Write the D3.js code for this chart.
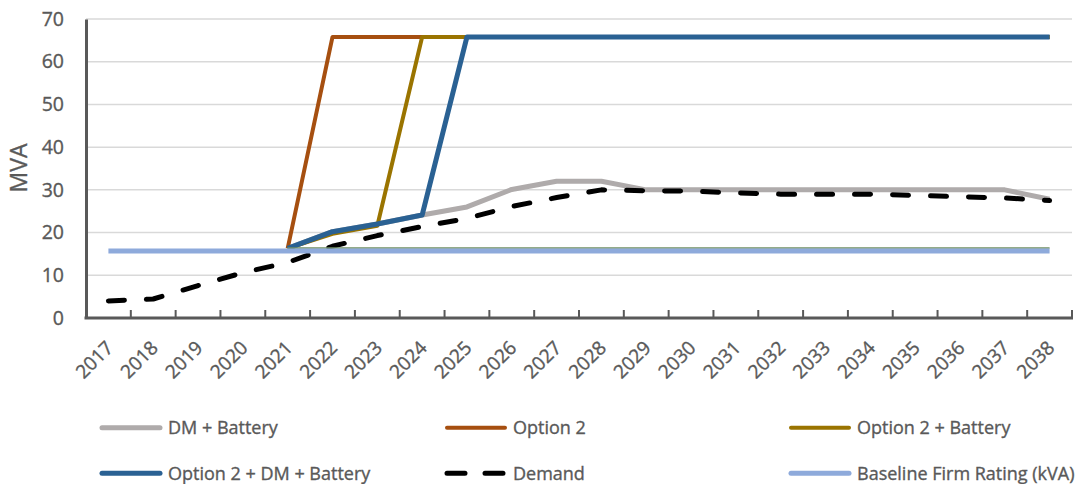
<!DOCTYPE html>
<html>
<head>
<meta charset="utf-8">
<script src="https://cdn.jsdelivr.net/npm/d3@7"></script>
<style>
  html, body { margin: 0; padding: 0; background: #ffffff; }
  svg text { font-family: "Open Sans", "Noto Sans", sans-serif; fill: #595959;
             stroke: #595959; stroke-width: 0.35px; }
</style>
</head>
<body>
<svg id="chart" width="1086" height="484"></svg>
<script>
// Years on the category axis
const years = ["2017","2018","2019","2020","2021","2022","2023","2024","2025","2026","2027",
               "2028","2029","2030","2031","2032","2033","2034","2035","2036","2037","2038"];

// Capacity scenarios (MVA); null = no value for that year
const dmBattery = [null,null,null,null,16.3,20.2,22.0,24.1,26.0,30.1,32.0,
                   32.0,30.0,30.0,30.0,30.0,30.0,30.0,30.0,30.0,30.0,27.8];
const option2 = [null,null,null,null,16.3,65.8,65.8,65.8,65.8,65.8,65.8,
                 65.8,65.8,65.8,65.8,65.8,65.8,65.8,65.8,65.8,65.8,65.8];
const option2Battery = [null,null,null,null,16.3,19.7,21.6,65.8,65.8,65.8,65.8,
                        65.8,65.8,65.8,65.8,65.8,65.8,65.8,65.8,65.8,65.8,65.8];
const option2DmBattery = [null,null,null,null,16.3,20.2,22.0,24.1,65.8,65.8,65.8,
                          65.8,65.8,65.8,65.8,65.8,65.8,65.8,65.8,65.8,65.8,65.8];
const demand = [4.0,4.45,7.6,10.6,13.0,16.8,19.3,21.4,23.3,26.1,28.2,
                30.0,29.8,29.7,29.3,29.0,29.0,29.0,28.7,28.4,28.1,27.5];
const baselineFirm = [15.7,15.7,15.7,15.7,15.7,15.7,15.7,15.7,15.7,15.7,15.7,
                      15.7,15.7,15.7,15.7,15.7,15.7,15.7,15.7,15.7,15.7,15.7];
// Unlabelled rating trace sitting just above the baseline
const ratingTrace = [null,null,null,null,16.4,16.4,16.4,16.4,16.4,16.4,16.4,
                     16.4,16.4,16.4,16.4,16.4,16.4,16.4,16.4,16.4,16.4,16.4];

const yTicks = [0,10,20,30,40,50,60,70];
const axisTitle = "MVA";

const svg = d3.select("#chart");
const plotLeft = 86, plotRight = 1072, plotTop = 19, plotBottom = 318;

const x = d3.scaleBand().domain(years).range([plotLeft, plotRight]).padding(0);
const y = d3.scaleLinear().domain([0, 70]).range([plotBottom, plotTop]);
const cx = d => x(d) + x.bandwidth() / 2;

// Horizontal gridlines
svg.append("g").selectAll("line").data(yTicks.filter(t => t > 0)).join("line")
  .attr("x1", plotLeft).attr("x2", plotRight)
  .attr("y1", d => y(d)).attr("y2", d => y(d))
  .attr("stroke", "#d9d9d9").attr("stroke-width", 1.5);

// Y axis
const yAxis = svg.append("g").attr("transform", `translate(${plotLeft},0)`)
  .call(d3.axisLeft(y).tickValues(yTicks).tickSize(0).tickPadding(22));
yAxis.select(".domain").attr("stroke", "#595959").attr("stroke-width", 3);
yAxis.selectAll("text").style("font-size", "19.5px").attr("fill", "#595959")
  .attr("font-family", "Open Sans");

// X axis with inward ticks on category boundaries
const xAxisG = svg.append("g").attr("transform", `translate(0,${plotBottom})`);
xAxisG.append("line").attr("x1", plotLeft - 1.5).attr("x2", plotRight + 1)
  .attr("stroke", "#595959").attr("stroke-width", 3);
const boundaries = years.map(d => x(d)).concat([plotRight]).slice(1);
xAxisG.selectAll("line.tick").data(boundaries).join("line").attr("class", "tick")
  .attr("x1", d => d).attr("x2", d => d).attr("y1", 0).attr("y2", -8)
  .attr("stroke", "#595959").attr("stroke-width", 2);
xAxisG.selectAll("text").data(years).join("text")
  .attr("text-anchor", "end")
  .attr("transform", d => `translate(${cx(d) + 6},${349 - plotBottom}) rotate(-45)`)
  .style("font-size", "19px")
  .text(d => d);

// Axis title
svg.append("text")
  .attr("transform", `translate(27,168) rotate(-90)`)
  .attr("text-anchor", "middle")
  .style("font-size", "23px")
  .text(axisTitle);

// Series
const series = [
  { name: "DM + Battery", values: dmBattery, color: "#afabab", width: 5 },
  { name: "Option 2", values: option2, color: "#a64f10", width: 4 },
  { name: "Option 2 + Battery", values: option2Battery, color: "#9a7400", width: 4 },
  { name: "Option 2 + DM + Battery", values: option2DmBattery, color: "#2a6193", width: 5 },
  { name: "Demand", values: demand, color: "#000000", width: 5, dash: "16,22" },
  { name: null, values: ratingTrace, color: "#6f8f63", width: 1.6 },
  { name: "Baseline Firm Rating (kVA)", values: baselineFirm, color: "#8eaadb", width: 5 }
];

const line = d3.line()
  .defined(d => d.v != null)
  .x(d => cx(d.year))
  .y(d => y(d.v));

svg.append("g").selectAll("path").data(series).join("path")
  .attr("d", s => line(years.map((yr, i) => ({ year: yr, v: s.values[i] }))))
  .attr("fill", "none")
  .attr("stroke", s => s.color)
  .attr("stroke-width", s => s.width)
  .attr("stroke-linejoin", "round")
  .attr("stroke-linecap", s => s.dash ? "round" : "butt")
  .attr("stroke-dasharray", s => s.dash || null);

// Legend: 3 columns x 2 rows
const legendItems = series.filter(s => s.name);
const colX = [100, 445, 789];
const rowY = [427.7, 473.3];
const lg = svg.append("g").selectAll("g").data(legendItems).join("g")
  .attr("transform", (d, i) => `translate(${colX[i % 3]},${rowY[Math.floor(i / 3)]})`);
lg.append("line")
  .attr("x1", 2).attr("x2", 60).attr("y1", 0).attr("y2", 0)
  .attr("stroke", d => d.color).attr("stroke-width", d => d.width)
  .attr("stroke-linecap", "round")
  .attr("stroke-dasharray", d => d.dash ? "18,20" : null);
lg.append("text")
  .attr("x", 68).attr("y", 6.5)
  .style("font-size", "18px")
  .text(d => d.name);
</script>
</body>
</html>
